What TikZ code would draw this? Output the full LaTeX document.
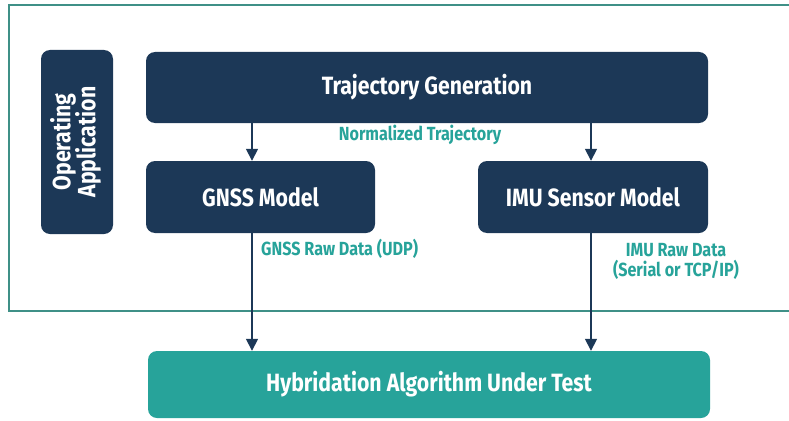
\documentclass[tikz,border=0pt]{standalone}
\usepackage{fontspec}
\setmainfont{Fira Sans}[FakeStretch=0.85]
\usepackage{xcolor}
\usepackage{tikz}
\usetikzlibrary{calc, positioning, arrows.meta}

\definecolor{navy}{HTML}{1C3857}
\definecolor{teal}{HTML}{27A39A}
\definecolor{frameteal}{HTML}{3F9087}

\tikzset{
  block/.style = {fill=navy, rounded corners=9pt, text=white, font=\bfseries\fontsize{25}{29}\selectfont, inner sep=0pt},
  outbox/.style = {block, fill=teal},
  lbl/.style = {text=teal, font=\bfseries\fontsize{19}{23}\selectfont, inner sep=0pt, align=center},
  flow/.style = {draw=navy, line width=1.6pt, -{Triangle[width=12pt,length=12pt]}}
}

\begin{document}
\begin{tikzpicture}[x=1pt, y=-1pt]
\useasboundingbox (0,0) rectangle (789,420);

% frame round the simulator side
\draw[frameteal, line width=2pt] (9,5) rectangle (820,311);

\node[block, minimum width=72pt, minimum height=184pt] (app) at (77,142)
  {\rotatebox{90}{\begin{tabular}{@{}c@{}}Operating\\[-4pt]Application\end{tabular}}};
\node[block, minimum width=562pt, minimum height=71pt] (traj) at (427,87.5) {Trajectory Generation};
\node[block, minimum width=229pt, minimum height=72pt] (gnss) at (260.5,197) {GNSS Model};
\node[block, minimum width=230pt, minimum height=72pt] (imu) at (593,197) {IMU Sensor Model};
\node[outbox, minimum width=562pt, minimum height=67pt] (hyb) at (429,384.5) {Hybridation Algorithm Under Test};

\node[lbl] (normlbl) at (420,135) {Normalized Trajectory};
\node[lbl, anchor=west] (gnsslbl) at (261,249) {GNSS Raw Data (UDP)};
\node[lbl] (imulbl) at (676,261) {IMU Raw Data\\[-3pt](Serial or TCP/IP)};

% arrows sit a little left of the box centres
\draw[flow] ([xshift=-8.5pt]gnss.north |- traj.south) -- ([xshift=-8.5pt]gnss.north);
\draw[flow] ([xshift=-2pt]imu.north |- traj.south) -- ([xshift=-2pt]imu.north);
\draw[flow] ([xshift=-8.5pt]gnss.south) -- ([xshift=-8.5pt]gnss.south |- hyb.north);
\draw[flow] ([xshift=-2pt]imu.south) -- ([xshift=-2pt]imu.south |- hyb.north);

\end{tikzpicture}
\end{document}
